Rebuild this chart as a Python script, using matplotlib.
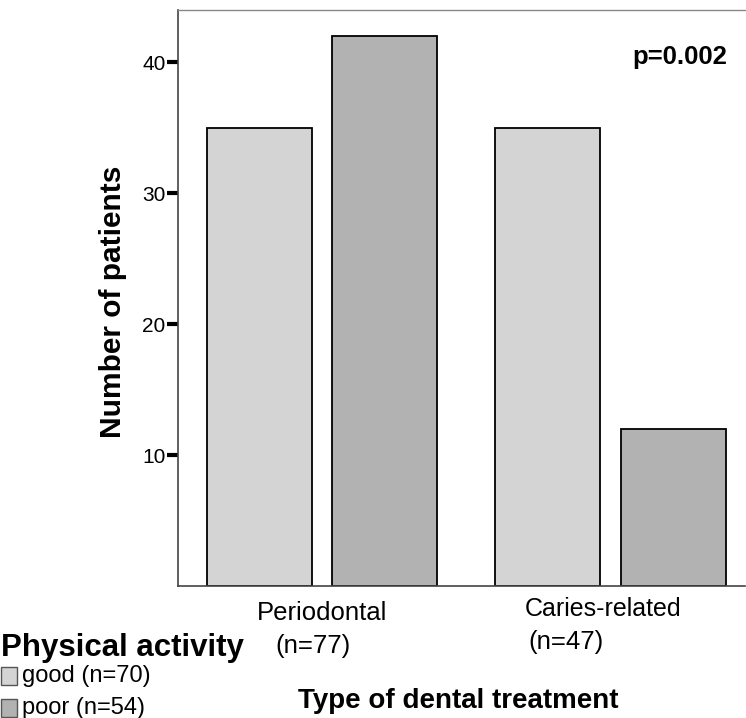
import numpy as np
import matplotlib.pyplot as plt
from matplotlib.patches import Rectangle

# --- data ---
treatments = ["Periodontal", "Caries-related"]
treatment_n = ["(n=77)", "(n=47)"]
activity = ["good (n=70)", "poor (n=54)"]
good_counts = [35, 35]
poor_counts = [42, 12]
yticks = [10, 20, 30, 40]
p_text = "p=0.002"

W, H = 746, 718
plt.rcParams['font.family'] = ['Liberation Sans', 'DejaVu Sans']

fig = plt.figure(figsize=(W / 100, H / 100), dpi=100)


def fx(x):
    return x / W


def fy(y):
    return 1 - y / H


# axes box in pixels: left 178, right 745, top 10, bottom 586
ax = fig.add_axes([fx(178), fy(586), fx(745) - fx(178), fy(10) - fy(586)])

light = '#d4d4d4'
dark = '#b2b2b2'
width = 0.364
offset = 0.217
x = np.arange(len(treatments))

ax.bar(x - offset, good_counts, width, color=light, edgecolor='black', linewidth=1.3)
ax.bar(x + offset, poor_counts, width, color=dark, edgecolor='black', linewidth=1.3)

ax.set_xlim(-0.499, 1.466)
ax.set_ylim(0, 44)
ax.set_yticks(yticks)
ax.set_yticklabels([str(t) for t in yticks], fontsize=15)
ax.tick_params(axis='y', length=8, width=3, direction='out', pad=1)
ax.set_xticks([])

ax.spines['top'].set_color('#888888')
ax.spines['top'].set_linewidth(1.0)
ax.spines['right'].set_visible(False)
ax.spines['left'].set_color('#444444')
ax.spines['left'].set_linewidth(1.2)
ax.spines['bottom'].set_color('#444444')
ax.spines['bottom'].set_linewidth(1.2)

ax.text(0.968, 0.918, p_text, transform=ax.transAxes, ha='right', va='center',
        fontsize=18.5, fontweight='bold')

# category labels under the axis
fig.text(fx(322), fy(613), treatments[0], ha='center', va='center', fontsize=18.5)
fig.text(fx(275), fy(646), treatment_n[0], ha='left', va='center', fontsize=18.5)
fig.text(fx(525), fy(609), treatments[1], ha='left', va='center', fontsize=18)
fig.text(fx(528), fy(642), treatment_n[1], ha='left', va='center', fontsize=18.5)

fig.text(fx(113), fy(302), "Number of patients", rotation=90, ha='center', va='center',
         fontsize=21.5, fontweight='bold')
fig.text(fx(458), fy(701), "Type of dental treatment", ha='center', va='center',
         fontsize=20, fontweight='bold')

# legend drawn by hand, like the original
fig.text(fx(1), fy(648), "Physical activity", ha='left', va='center',
         fontsize=22.5, fontweight='bold')
for i, (lab, col) in enumerate(zip(activity, [light, dark])):
    yc = 676 + i * 32
    fig.patches.append(Rectangle((fx(1), fy(yc + 9)), fx(16), fy(yc - 9) - fy(yc + 9),
                                 transform=fig.transFigure, facecolor=col,
                                 edgecolor='#555555', linewidth=1.0))
    fig.text(fx(22), fy(yc), lab, ha='left', va='center', fontsize=17)

fig.savefig('out.png', dpi=100)
